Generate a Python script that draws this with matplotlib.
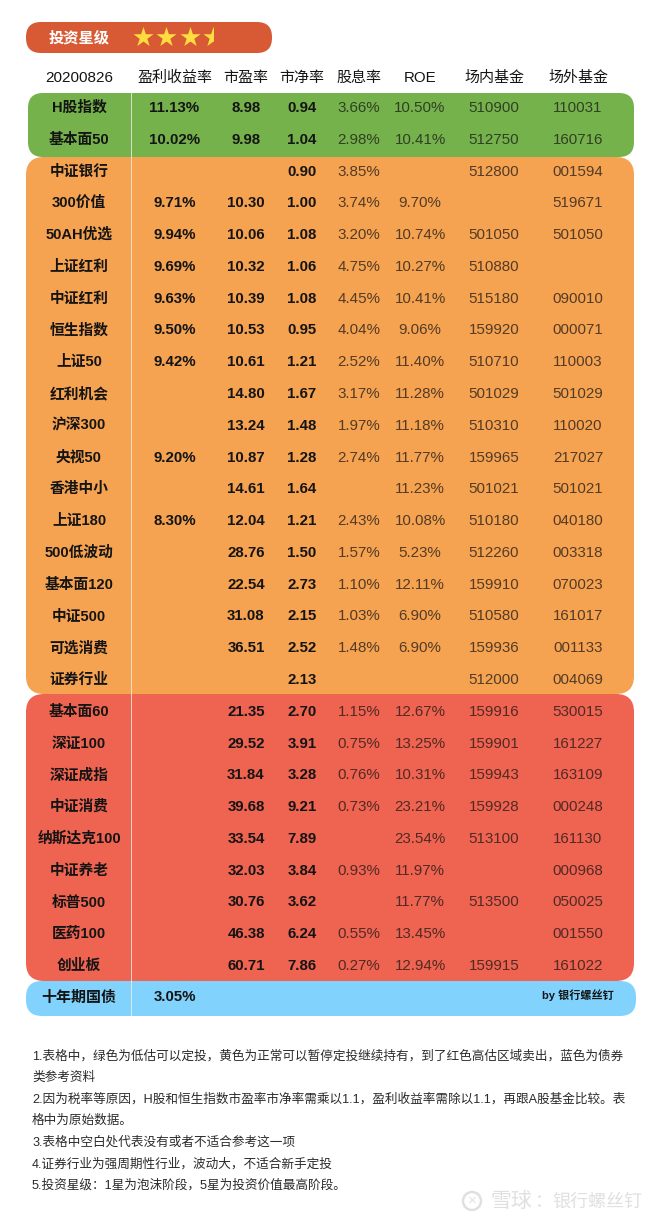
import matplotlib
matplotlib.use("Agg")
import matplotlib.pyplot as plt
from matplotlib.patches import FancyBboxPatch, Rectangle, Circle

plt.rcParams['font.family'] = ['Liberation Sans', 'Noto Sans CJK SC', 'DejaVu Sans']

# table data
names = ['H股指数', '基本面50',
         '中证银行', '300价值', '50AH优选', '上证红利', '中证红利', '恒生指数', '上证50', '红利机会',
         '沪深300', '央视50', '香港中小', '上证180', '500低波动', '基本面120', '中证500', '可选消费', '证券行业',
         '基本面60', '深证100', '深证成指', '中证消费', '纳斯达克100', '中证养老', '标普500', '医药100', '创业板']
earn_yield = ['11.13%', '10.02%',
              '', '9.71%', '9.94%', '9.69%', '9.63%', '9.50%', '9.42%', '',
              '', '9.20%', '', '8.30%', '', '', '', '', '',
              '', '', '', '', '', '', '', '', '']
pe = ['8.98', '9.98',
      '', '10.30', '10.06', '10.32', '10.39', '10.53', '10.61', '14.80',
      '13.24', '10.87', '14.61', '12.04', '28.76', '22.54', '31.08', '36.51', '',
      '21.35', '29.52', '31.84', '39.68', '33.54', '32.03', '30.76', '46.38', '60.71']
pb = ['0.94', '1.04',
      '0.90', '1.00', '1.08', '1.06', '1.08', '0.95', '1.21', '1.67',
      '1.48', '1.28', '1.64', '1.21', '1.50', '2.73', '2.15', '2.52', '2.13',
      '2.70', '3.91', '3.28', '9.21', '7.89', '3.84', '3.62', '6.24', '7.86']
dividend = ['3.66%', '2.98%',
            '3.85%', '3.74%', '3.20%', '4.75%', '4.45%', '4.04%', '2.52%', '3.17%',
            '1.97%', '2.74%', '', '2.43%', '1.57%', '1.10%', '1.03%', '1.48%', '',
            '1.15%', '0.75%', '0.76%', '0.73%', '', '0.93%', '', '0.55%', '0.27%']
roe = ['10.50%', '10.41%',
       '', '9.70%', '10.74%', '10.27%', '10.41%', '9.06%', '11.40%', '11.28%',
       '11.18%', '11.77%', '11.23%', '10.08%', '5.23%', '12.11%', '6.90%', '6.90%', '',
       '12.67%', '13.25%', '10.31%', '23.21%', '23.54%', '11.97%', '11.77%', '13.45%', '12.94%']
fund_in = ['510900', '512750',
           '512800', '', '501050', '510880', '515180', '159920', '510710', '501029',
           '510310', '159965', '501021', '510180', '512260', '159910', '510580', '159936', '512000',
           '159916', '159901', '159943', '159928', '513100', '', '513500', '', '159915']
fund_out = ['110031', '160716',
            '001594', '519671', '501050', '', '090010', '000071', '110003', '501029',
            '110020', '217027', '501021', '040180', '003318', '070023', '161017', '001133', '004069',
            '530015', '161227', '163109', '000248', '161130', '000968', '050025', '001550', '161022']
headers = ['20200826', '盈利收益率', '市盈率', '市净率', '股息率', 'ROE', '场内基金', '场外基金']
bond_name = '十年期国债'
bond_yield = '3.05%'
rating = 3.5
notes = ['1.表格中，绿色为低估可以定投，黄色为正常可以暂停定投继续持有，到了红色高估区域卖出，蓝色为债券',
         '类参考资料',
         '2.因为税率等原因，H股和恒生指数市盈率市净率需乘以1.1，盈利收益率需除以1.1，再跟A股基金比较。表',
         '格中为原始数据。',
         '3.表格中空白处代表没有或者不适合参考这一项',
         '4.证券行业为强周期性行业，波动大，不适合新手定投',
         '5.投资星级：1星为泡沫阶段，5星为投资价值最高阶段。']

# layout in pixels
col_x = [79, 174.5, 246, 302, 359, 420, 494, 578]
row0, row_h = 107, 31.78
base = 5.0  # baseline offset from the row centre
dark = '#141414'

fig = plt.figure(figsize=(6.6, 12.22), dpi=100)
ax = fig.add_axes([0, 0, 1, 1], xlim=(0, 660), ylim=(1222, 0))
ax.axis('off')


def band(x0, y0, x1, y1, color, r=18):
    p = FancyBboxPatch((x0 + r, y0 + r), x1 - x0 - 2 * r, y1 - y0 - 2 * r,
                       boxstyle='round,pad=%d,rounding_size=%d' % (r, r),
                       fc=color, ec='none', zorder=1)
    ax.add_patch(p)


def label(x, y, s, size=10.8, **kw):
    kw.setdefault('color', dark)
    kw.setdefault('ha', 'center')
    ax.text(x, y + base, s, fontsize=size, va='baseline', zorder=3, **kw)


band(28, 93, 634, 157, '#75B24B', 15)
band(26, 157, 634, 694, '#F5A251')
band(26, 694, 634, 981, '#EF6351')
band(26, 981, 636, 1016, '#81D3FD', 16)
ax.plot([130.5, 130.5], [93, 1016], color='#f0f0e8', lw=0.7, alpha=0.8, zorder=2)

# rating badge
band(26, 22, 272, 53, '#D85A35', 15)
label(79, 37, '投资星级', size=11, color='white', fontweight='bold')
for i in range(int(rating + 0.5)):
    sx = 143 + i * 23.4
    star = ax.scatter([sx], [37], marker='*', s=230, color='#FFDD40', linewidths=0, zorder=3)
    if i + 1 > rating:
        star.set_clip_path(Rectangle((sx - 15, 20), 15, 34, transform=ax.transData))

# header row
for x, h in zip(col_x, headers):
    label(x, 77, h, size=11 if h[0].isdigit() else 10.8)

# table rows
for i, name in enumerate(names):
    y = row0 + i * row_h
    label(col_x[0], y, name, size=10.6, fontweight='bold')
    for x, col in zip(col_x[1:4], (earn_yield, pe, pb)):
        label(x, y, col[i], fontweight='bold')
    for x, col in zip(col_x[4:], (dividend, roe, fund_in, fund_out)):
        label(x, y, col[i], size=10.9, alpha=0.72)

# bond row
label(col_x[0], 997, bond_name, size=10.8, fontweight='bold')
label(col_x[1], 996, bond_yield, fontweight='bold')
label(col_x[7], 994, 'by 银行螺丝钉', size=8, fontweight='bold')

# notes
for i, line in enumerate(notes):
    label(32, 1054.5 + i * 21.6, line, size=9.1, ha='left', color='#2a2a2a')

# watermark
mark = '#e0e0e0'
ax.add_patch(Circle((472, 1201), 9, fc='none', ec=mark, lw=1.8))
ax.text(472, 1201, '×', color=mark, fontsize=11, ha='center', va='center')
ax.text(490, 1207, '雪球', color=mark, fontsize=15, ha='left', va='baseline')
ax.text(535, 1207, '：', color=mark, fontsize=13, ha='left', va='baseline')
ax.text(642, 1207, '银行螺丝钉', color=mark, fontsize=13, ha='right', va='baseline')

fig.savefig('out.png', dpi=100)
